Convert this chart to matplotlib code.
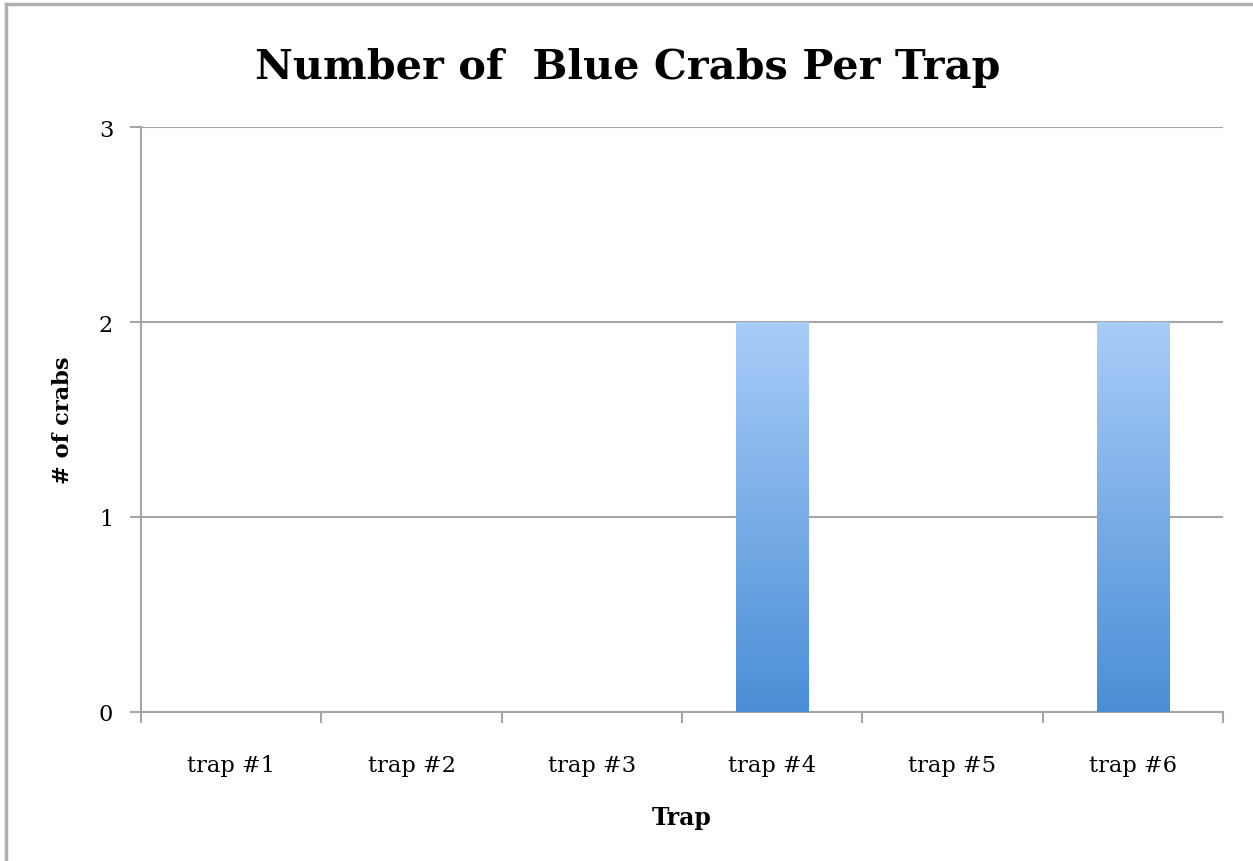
import numpy as np
import matplotlib.pyplot as plt
from matplotlib.colors import LinearSegmentedColormap
from matplotlib.lines import Line2D

traps = ['trap #1', 'trap #2', 'trap #3', 'trap #4', 'trap #5', 'trap #6']
crabs = [0, 0, 0, 2, 0, 2]

plt.rcParams['font.family'] = ['DejaVu Serif']
grid_col = '#a6a6a6'

fig = plt.figure(figsize=(12.53, 8.62), dpi=100)
ax = fig.add_axes([141/1253, 1 - 713/862, (1223-141)/1253, (713-128)/862])

x = np.arange(len(traps))
bars = ax.bar(x, crabs, width=0.4, color='none', zorder=3)

# vertical gradient fill for each bar
cmap = LinearSegmentedColormap.from_list('bl', ['#4a8ed6', '#a9ccf8'])
grad = np.linspace(0, 1, 256).reshape(-1, 1)
for b in bars:
    if b.get_height() <= 0:
        continue
    x0, w, h = b.get_x(), b.get_width(), b.get_height()
    im = ax.imshow(grad, cmap=cmap, origin='lower', aspect='auto',
                   extent=[x0, x0 + w, 0, h], zorder=3)
    im.set_clip_path(b)

ax.set_xlim(-0.5, len(traps) - 0.5)
ax.set_ylim(0, 3)
ax.set_yticks([0, 1, 2, 3])
ax.set_xticks(x)
ax.set_xticklabels(traps)
ax.set_xticks(np.arange(-0.5, len(traps)), minor=True)
ax.tick_params(axis='x', which='major', length=0, pad=30, labelsize=16.2)
ax.tick_params(axis='x', which='minor', length=8, width=1.5, color=grid_col)
ax.tick_params(axis='y', length=8, width=1.5, color=grid_col, pad=12, labelsize=16.2)
ax.yaxis.grid(True, color=grid_col, linewidth=1.5, zorder=0)
ax.set_axisbelow(True)

for s in ['top', 'right']:
    ax.spines[s].set_visible(False)
ax.spines['left'].set_color(grid_col)
ax.spines['bottom'].set_color(grid_col)
ax.spines['left'].set_linewidth(1.5)
ax.spines['bottom'].set_linewidth(1.5)

ax.set_xlabel('Trap', fontsize=17, fontweight='bold', labelpad=21)
ax.set_ylabel('# of crabs', fontsize=16.2, fontweight='bold', labelpad=18)
fig.text(628/1253, 1 - 68/862, 'Number of  Blue Crabs Per Trap', fontsize=29.8,
         fontweight='bold', ha='center', va='center')

# outer chart border (top and left visible)
fig.add_artist(Line2D([6/1253, 1], [1 - 5/862, 1 - 5/862], color='#b0b0b0', lw=2.5,
                      transform=fig.transFigure))
fig.add_artist(Line2D([6/1253, 6/1253], [0, 1 - 5/862], color='#b0b0b0', lw=2.5,
                      transform=fig.transFigure))

fig.savefig('out.png', dpi=100)
